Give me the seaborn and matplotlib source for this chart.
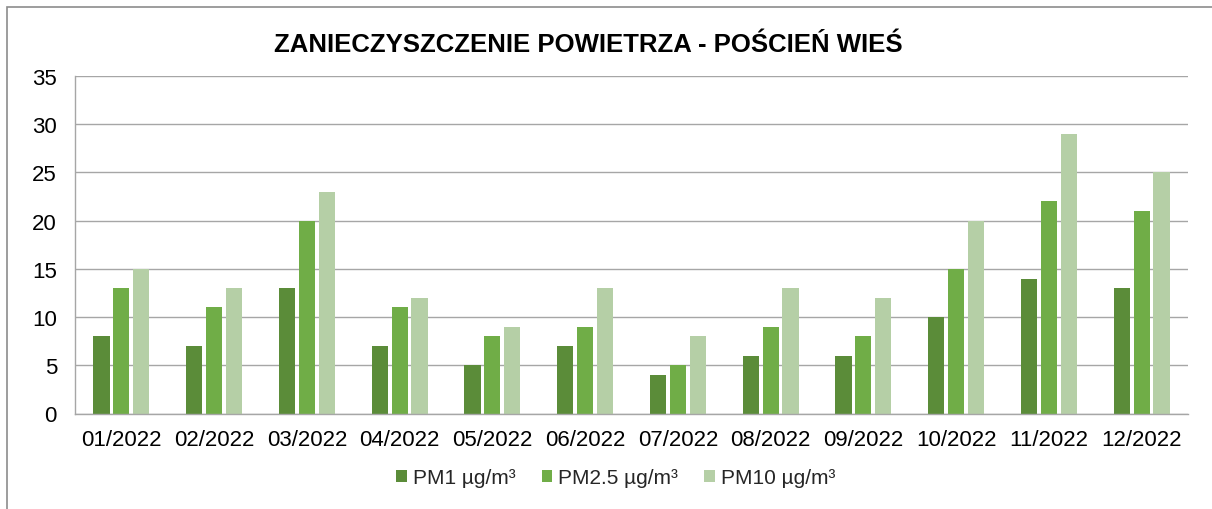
import matplotlib
matplotlib.use("Agg")
import matplotlib.pyplot as plt
from matplotlib.patches import Rectangle
import seaborn as sns
import pandas as pd

months = ["01/2022", "02/2022", "03/2022", "04/2022", "05/2022", "06/2022",
          "07/2022", "08/2022", "09/2022", "10/2022", "11/2022", "12/2022"]
pm1 = [8, 7, 13, 7, 5, 7, 4, 6, 6, 10, 14, 13]
pm25 = [13, 11, 20, 11, 8, 9, 5, 9, 8, 15, 22, 21]
pm10 = [15, 13, 23, 12, 9, 13, 8, 13, 12, 20, 29, 25]
series_names = ["PM1 µg/m³", "PM2.5 µg/m³", "PM10 µg/m³"]
colors = ["#5B8C39", "#70AD47", "#B5CFA6"]
title = "ZANIECZYSZCZENIE POWIETRZA - POŚCIEŃ WIEŚ"

df = pd.DataFrame({
    "month": months * 3,
    "value": pm1 + pm25 + pm10,
    "series": [series_names[0]] * 12 + [series_names[1]] * 12 + [series_names[2]] * 12,
})

sns.set_theme(style="white")
plt.rcParams["font.family"] = ["Liberation Sans", "DejaVu Sans"]

fig = plt.figure(figsize=(12.12, 5.10), dpi=100)
ax = fig.add_axes([75 / 1212, 1 - 414.5 / 510, (1188 - 75) / 1212, (414.5 - 77) / 510])

sns.barplot(data=df, x="month", y="value", hue="series", palette=colors,
            width=0.64, gap=0.18, ax=ax, saturation=1, legend=True, linewidth=0)

ax.set_ylim(0, 35)
ax.set_yticks(range(0, 36, 5))
ax.set_xlim(-0.5, 11.5)
ax.yaxis.grid(True, color="#A6A6A6", linewidth=1)
ax.set_axisbelow(True)
for s in ["top", "right"]:
    ax.spines[s].set_visible(False)
for s in ["left", "bottom"]:
    ax.spines[s].set_color("#A6A6A6")
    ax.spines[s].set_linewidth(1)
ax.tick_params(axis="both", length=0, labelsize=16, colors="#000000")
ax.tick_params(axis="y", pad=13)
ax.tick_params(axis="x", pad=11)
ax.set_xlabel("")
ax.set_ylabel("")

fig.text(588 / 1212, 1 - 45 / 510, title, ha="center", va="center",
         fontsize=18.5, fontweight="bold", color="#000000")

handles, labels = ax.get_legend_handles_labels()
ax.legend(handles, labels, loc="center", bbox_to_anchor=(0.486, -0.19),
          ncol=3, frameon=False, fontsize=15, handlelength=0.5, handleheight=0.5,
          handletextpad=0.3, columnspacing=1.25)

fig.patches.append(Rectangle((7 / 1212, -0.05), 1.1, 1 - 8 / 510 + 0.05,
                             transform=fig.transFigure, fill=False,
                             edgecolor="#8C8C8C", linewidth=1.2))

fig.savefig("out.png", dpi=100)
